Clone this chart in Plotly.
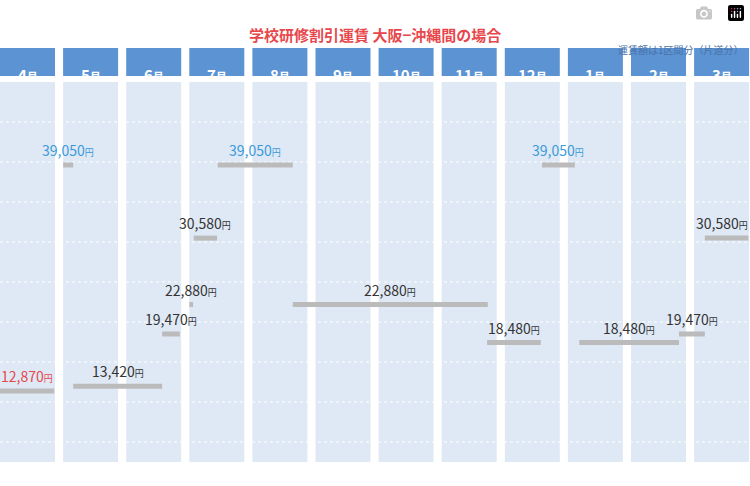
import plotly.graph_objects as go

months = ["4月","5月","6月","7月","8月","9月","10月","11月","12月","1月","2月","3月"]
fares = [12870, 39050, 13420, 19470, 22880, 30580, 39050, 22880, 18480, 39050, 18480, 19470, 30580]
seg_start = [0.0, 1.0, 1.16, 2.57, 3.0, 3.07, 3.45, 4.64, 7.72, 8.59, 9.18, 10.76, 11.17]
seg_end = [0.86, 1.16, 2.57, 2.85, 3.06, 3.44, 4.64, 7.73, 8.57, 9.11, 10.76, 11.17, 11.86]
labels = ["12,870","39,050","13,420","19,470","22,880","30,580","39,050","22,880","18,480","39,050","18,480","19,470","30,580"]

W, H = 750, 486
PITCH = 63.1
COLW = 55 / PITCH
XMAX = W / PITCH
Y_TOP, Y_BOT = 58170, 1854

def py(px):
    return 1 - px / H

fig = go.Figure()
shapes = []
annotations = []
for i, m in enumerate(months):
    shapes.append(dict(type="rect", xref="x", yref="paper", x0=i, x1=i + COLW,
                       y0=py(76), y1=py(48), fillcolor="#5b93d3", line_width=0, layer="below"))
    shapes.append(dict(type="rect", xref="x", yref="paper", x0=i, x1=i + COLW,
                       y0=py(462), y1=py(82), fillcolor="#dfe9f6", line_width=0, layer="below"))
    annotations.append(dict(x=i + COLW / 2, y=py(62), xref="x", yref="paper", showarrow=False,
                            text=f"<b>{m[:-1]}<span style='font-size:11px'>月</span></b>",
                            font=dict(color="white", size=15, family="Noto Sans CJK JP")))
for k in range(9):
    shapes.append(dict(type="line", xref="paper", yref="paper", x0=0, x1=1,
                       y0=py(122 + 40 * k), y1=py(122 + 40 * k),
                       line=dict(color="white", width=1, dash="dot"), layer="below"))

xs, ys = [], []
for s, e, f in zip(seg_start, seg_end, fares):
    xs += [s, e, None]
    ys += [f, f, None]
fig.add_trace(go.Scatter(x=xs, y=ys, mode="lines", line=dict(color="#bbbbbb", width=5),
                         hoverinfo="skip", showlegend=False))

for idx, (s, e, f, t) in enumerate(zip(seg_start, seg_end, fares, labels)):
    color = "#3a9ad9" if f == 39050 else ("#e8474c" if f == 12870 else "#333333")
    xa = "center"
    x = (s + e) / 2
    if idx == len(fares) - 1:
        xa, x = "right", XMAX
    annotations.append(dict(x=x, y=f, xref="x", yref="y", yshift=15, showarrow=False, xanchor=xa,
                            text=f"{t}<span style='font-size:9px'>円</span>",
                            font=dict(color=color, size=14, family="Noto Sans CJK JP")))

annotations.append(dict(x=0.5, y=py(22), xref="paper", yref="paper", showarrow=False,
                        text="<b>学校研修割引運賃 大阪−沖縄間の場合</b>",
                        font=dict(color="#e8474c", size=15, family="Noto Sans CJK JP")))
annotations.append(dict(x=0.995, y=py(40), xref="paper", yref="paper", showarrow=False, xanchor="right",
                        text="運賃額は1区間分（片道分）",
                        font=dict(color="#4a72a8", size=10, family="Noto Sans CJK JP")))

fig.update_layout(width=W, height=H, margin=dict(l=0, r=0, t=0, b=0),
                  paper_bgcolor="white", plot_bgcolor="rgba(0,0,0,0)",
                  xaxis=dict(range=[0, XMAX], visible=False, fixedrange=True),
                  yaxis=dict(range=[Y_BOT, Y_TOP], visible=False, fixedrange=True),
                  shapes=shapes, annotations=annotations)
fig.write_html("out.html", post_script="document.body.style.margin='0';document.body.style.overflow='hidden';")
